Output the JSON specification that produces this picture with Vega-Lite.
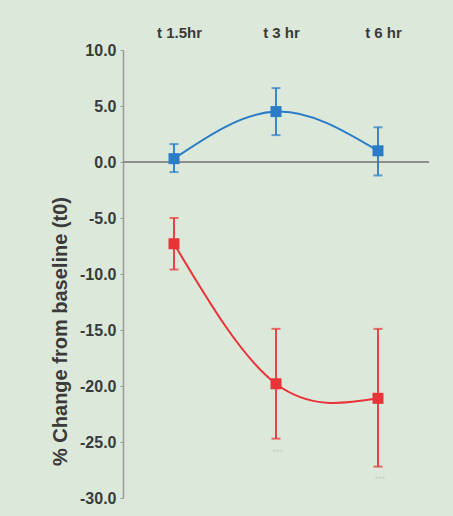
{
  "$schema": "https://vega.github.io/schema/vega-lite/v6.json",
  "width": 306,
  "height": 448,
  "autosize": "none",
  "padding": {"left": 123, "top": 50, "right": 24, "bottom": 18},
  "background": "#dce9da",
  "config": {"view": {"stroke": null}, "font": "Liberation Sans", "axis": {"grid": false}},
  "data": {"values": [
    {"time": "t 1.5hr", "group": "blue", "mean": 0.3, "lo": -0.9, "hi": 1.6, "star": null},
    {"time": "t 3 hr", "group": "blue", "mean": 4.5, "lo": 2.4, "hi": 6.6, "star": null},
    {"time": "t 6 hr", "group": "blue", "mean": 1.0, "lo": -1.2, "hi": 3.1, "star": null},
    {"time": "t 1.5hr", "group": "red", "mean": -7.3, "lo": -9.6, "hi": -5.0, "star": null},
    {"time": "t 3 hr", "group": "red", "mean": -19.8, "lo": -24.7, "hi": -14.9, "star": -25.9},
    {"time": "t 6 hr", "group": "red", "mean": -21.1, "lo": -27.2, "hi": -14.9, "star": -28.3}
  ]},
  "layer": [
    {
      "mark": {"type": "rule", "color": "#8c8c8c", "strokeWidth": 1},
      "encoding": {"y": {"datum": 0, "type": "quantitative", "scale": {"domain": [-30, 10], "nice": false, "zero": false}}}
    },
    {
      "mark": {"type": "line", "interpolate": "natural", "strokeWidth": 2},
      "encoding": {
        "x": {"field": "time", "type": "ordinal", "sort": ["t 1.5hr", "t 3 hr", "t 6 hr"], "scale": {"type": "point", "padding": 0.5},
          "axis": {"orient": "top", "title": null, "labelAngle": 0, "domain": false, "ticks": false, "labelFont": "Liberation Sans", "labelFontWeight": "bold", "labelFontSize": 15, "labelColor": "#3a3a3a", "labelPadding": 10, "labelOffset": 5}},
        "y": {"field": "mean", "type": "quantitative", "scale": {"domain": [-30, 10], "nice": false, "zero": false},
          "axis": {"values": [-30, -25, -20, -15, -10, -5, 0, 5, 10], "labelExpr": "replace(format(datum.value, '.1f'), '\u2212', '-')", "domainColor": "#9a9a9a", "domainWidth": 1.5, "tickColor": "#9a9a9a", "tickSize": 3, "labelFontWeight": "bold", "labelFontSize": 16, "labelColor": "#3a3a3a", "labelPadding": 4,
            "title": "% Change from baseline (t0)", "titleFontSize": 20, "titleFontWeight": "bold", "titleColor": "#3a3a3a", "titleX": -63, "titleY": 281, "titleAnchor": "middle", "titleBaseline": "middle", "titleAngle": -90}},
        "color": {"field": "group", "type": "nominal", "scale": {"domain": ["blue", "red"], "range": ["#2a7cc7", "#ea3338"]}, "legend": null}
      }
    },
    {
      "mark": {"type": "rule", "strokeWidth": 1.8},
      "encoding": {
        "x": {"field": "time", "type": "ordinal", "sort": ["t 1.5hr", "t 3 hr", "t 6 hr"]},
        "y": {"field": "lo", "type": "quantitative"},
        "y2": {"field": "hi"},
        "color": {"field": "group", "type": "nominal", "legend": null}
      }
    },
    {
      "mark": {"type": "tick", "size": 9, "thickness": 2, "orient": "horizontal"},
      "encoding": {
        "x": {"field": "time", "type": "ordinal", "sort": ["t 1.5hr", "t 3 hr", "t 6 hr"]},
        "y": {"field": "lo", "type": "quantitative"},
        "color": {"field": "group", "type": "nominal", "legend": null}
      }
    },
    {
      "mark": {"type": "tick", "size": 9, "thickness": 2, "orient": "horizontal"},
      "encoding": {
        "x": {"field": "time", "type": "ordinal", "sort": ["t 1.5hr", "t 3 hr", "t 6 hr"]},
        "y": {"field": "hi", "type": "quantitative"},
        "color": {"field": "group", "type": "nominal", "legend": null}
      }
    },
    {
      "mark": {"type": "point", "shape": "square", "filled": true, "size": 121, "opacity": 1},
      "encoding": {
        "x": {"field": "time", "type": "ordinal", "sort": ["t 1.5hr", "t 3 hr", "t 6 hr"]},
        "y": {"field": "mean", "type": "quantitative"},
        "color": {"field": "group", "type": "nominal", "legend": null}
      }
    },
    {
      "transform": [{"filter": "datum.star != null"}],
      "mark": {"type": "text", "text": "***", "fontSize": 9, "color": "#c6d3c4", "dx": 2},
      "encoding": {
        "x": {"field": "time", "type": "ordinal", "sort": ["t 1.5hr", "t 3 hr", "t 6 hr"]},
        "y": {"field": "star", "type": "quantitative"}
      }
    }
  ]
}
